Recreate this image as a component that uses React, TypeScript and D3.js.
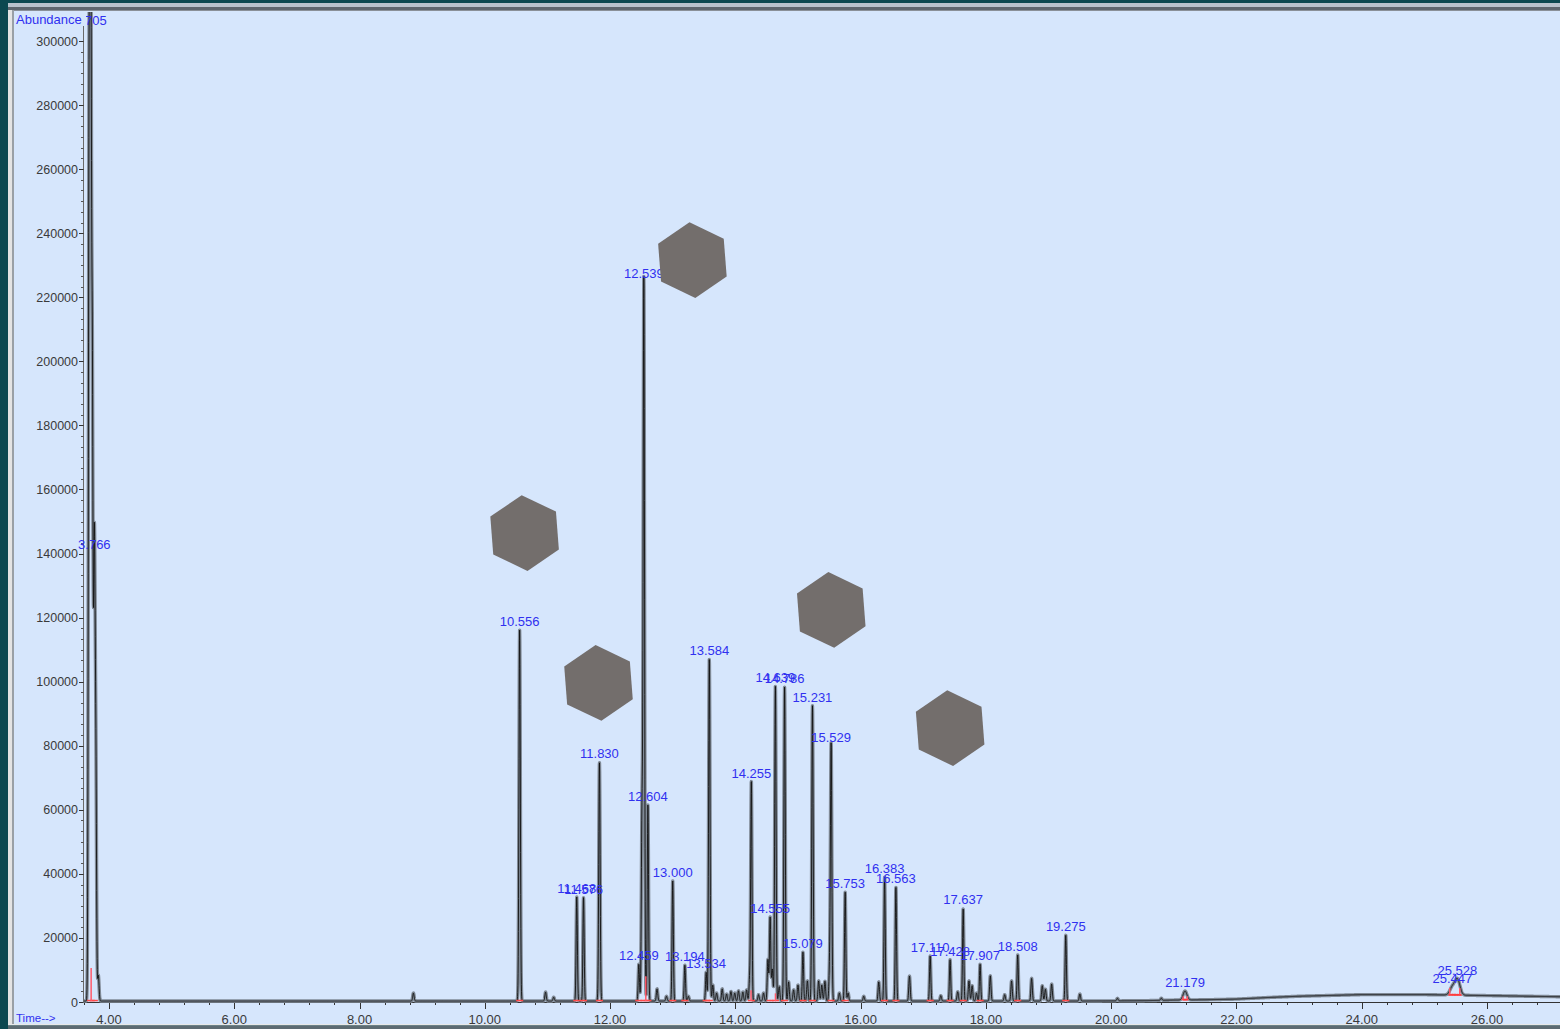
import React from 'react';
import * as d3 from 'd3';

const W = 1560;
const H = 1029;

// Labelled peaks (retention time in min, abundance, peak width sigma in min)
const peakTimes = [3.705, 3.766, 10.556, 11.468, 11.576, 11.83, 12.459, 12.539, 12.604, 13.0, 13.194, 13.534, 13.584, 14.255, 14.555, 14.639, 14.786, 15.079, 15.231, 15.529, 15.753, 16.383, 16.563, 17.11, 17.428, 17.637, 17.907, 18.508, 19.275, 21.179, 25.447, 25.528];
const peakHeights = [360000, 140000, 115800, 32500, 32300, 74600, 11500, 224500, 61300, 37600, 11200, 9000, 106800, 68300, 26200, 98400, 98000, 15300, 92200, 79700, 34000, 38700, 35500, 14100, 12900, 28900, 11550, 14400, 20600, 2800, 2400, 4900];
const peakWidths = [0.014, 0.012, 0.011, 0.01, 0.01, 0.011, 0.01, 0.011, 0.01, 0.01, 0.01, 0.01, 0.011, 0.01, 0.01, 0.011, 0.011, 0.01, 0.011, 0.011, 0.01, 0.01, 0.01, 0.01, 0.01, 0.01, 0.01, 0.01, 0.01, 0.03, 0.04, 0.04];

// Unlabelled small peaks and shoulders
const minorTimes = [3.68, 3.735, 3.79, 3.83, 8.86, 10.97, 11.1, 12.51, 12.75, 12.9, 13.25, 13.64, 13.7, 13.79, 13.86, 13.93, 13.99, 14.05, 14.12, 14.18, 14.23, 14.37, 14.45, 14.52, 14.59, 14.7, 14.85, 14.93, 15.0, 15.15, 15.33, 15.38, 15.43, 15.505, 15.66, 15.8, 16.05, 16.29, 16.78, 17.28, 17.55, 17.73, 17.78, 17.85, 18.07, 18.3, 18.41, 18.73, 18.9, 18.95, 19.05, 19.5, 20.1, 20.8];
const minorHeights = [213000, 166000, 69000, 8000, 2500, 2800, 1200, 58000, 3800, 1500, 1500, 5000, 2500, 3800, 2200, 3000, 2500, 3200, 2800, 3500, 7500, 2000, 2500, 13000, 10000, 4500, 6000, 3500, 5000, 6300, 6300, 5000, 6200, 10000, 2500, 2500, 1500, 6000, 7800, 1700, 2900, 6300, 4800, 2500, 7900, 2000, 6300, 7100, 4800, 3700, 5300, 2200, 800, 700];

// Baseline level read along the run
const baseTimes = [3.6, 19.5, 20.5, 21.0, 21.5, 22.0, 22.5, 23.0, 24.0, 25.0, 26.0, 27.3];
const baseLevels = [300, 300, 400, 600, 700, 900, 1400, 1800, 2300, 2300, 2000, 1600];

// Integration drop lines (time, top abundance)
const dropTimes = [3.715, 12.57, 14.25, 14.64, 21.15, 21.215, 25.405, 25.565];
const dropTops = [10600, 8000, 3700, 2700, 1800, 1800, 4400, 4400];

// Overlay hexagons (centre in time / abundance)
const hexTimes = [10.635, 11.815, 13.314, 15.531, 17.429];
const hexLevels = [146400, 99600, 231600, 122400, 85500];

const yTicks = d3.range(0, 300001, 20000);
const xTicks = d3.range(4, 27, 2);

export default function App() {
  const x = d3.scaleLinear().domain([4, 26]).range([109, 1487]);
  const y = d3.scaleLinear().domain([0, 300000]).range([1002, 41]);
  const base = d3.scaleLinear().domain(baseTimes).range(baseLevels).clamp(true);

  const allT = [...peakTimes, ...minorTimes];
  const allH = [...peakHeights, ...minorHeights];
  const allW = [...peakWidths, ...minorTimes.map(() => 0.011)];

  const t0 = x.invert(84);
  const t1 = x.invert(1562);
  const step = 0.0025;
  const samples: [number, number][] = [];
  const n = Math.ceil((t1 - t0) / step);
  for (let i = 0; i <= n; i++) {
    const t = t0 + i * step;
    let v = base(t);
    for (let k = 0; k < allT.length; k++) {
      const d = (t - allT[k]) / allW[k];
      if (d > -7 && d < 7) v += allH[k] * Math.exp(-0.5 * d * d);
    }
    samples.push([t, v]);
  }
  const line = d3.line<[number, number]>().x((d) => x(d[0])).y((d) => y(d[1]));
  const tracePath = line(samples) || '';

  const hexR = 38;
  const rot = (-4.4 * Math.PI) / 180;
  const hexPts = (cx: number, cy: number) =>
    d3.range(6).map((i) => {
      const a = -Math.PI / 2 + rot + (i * Math.PI) / 3;
      return `${cx + hexR * Math.cos(a)},${cy + hexR * Math.sin(a)}`;
    }).join(' ');

  const yMinor = d3.range(0, 300001 + 1, 20000 / 6);
  const xMinor = d3.range(3.6, 27.3, 0.4);

  const blue = '#3030f0';
  const fontAxis = '"Liberation Sans", Arial, sans-serif';

  return (
    <svg width={W} height={H} style={{ position: 'absolute', left: 0, top: 0, display: 'block' }}>
      <defs>
        <clipPath id="plotclip">
          <rect x={84} y={12} width={W - 84} height={1004 - 12} />
        </clipPath>
      </defs>
      {/* window frame */}
      <rect x={0} y={0} width={W} height={H} fill="#0c4850" />
      <rect x={8} y={3} width={W} height={1022} fill="#b8c2cc" />
      <rect x={8} y={7} width={W} height={3} fill="#5e666e" />
      <rect x={8} y={10} width={5} height={1015} fill="#e4e4e4" />
      <rect x={12} y={10} width={2} height={1015} fill="#9aa0a6" />
      <rect x={14} y={11} width={W} height={1013} fill="#d6e6fc" />
      <rect x={14} y={10} width={W} height={1} fill="#8a9098" />

      {/* y axis */}
      <line x1={83.5} x2={83.5} y1={12} y2={1002} stroke="#6a6a6a" strokeWidth={1} />
      {yMinor.map((v, i) => (
        <line key={'ym' + i} x1={81} x2={83.5} y1={Math.round(y(v)) + 0.5} y2={Math.round(y(v)) + 0.5} stroke="#555" strokeWidth={1} />
      ))}
      {yTicks.map((v) => (
        <g key={'yt' + v}>
          <line x1={79} x2={83.5} y1={Math.round(y(v)) + 0.5} y2={Math.round(y(v)) + 0.5} stroke="#333" strokeWidth={1} />
          <text x={78} y={y(v) + 4.5} textAnchor="end" fontSize={12.5} fontFamily={fontAxis} fill="#3a3a3a">
            {v}
          </text>
        </g>
      ))}

      {/* x axis */}
      <line x1={84} x2={W} y1={1002.5} y2={1002.5} stroke="#333" strokeWidth={1} />
      {xMinor.map((v, i) => (
        <line key={'xm' + i} x1={Math.round(x(v)) + 0.5} x2={Math.round(x(v)) + 0.5} y1={1002} y2={1005} stroke="#333" strokeWidth={1} />
      ))}
      {xTicks.map((v) => (
        <g key={'xt' + v}>
          <line x1={Math.round(x(v)) + 0.5} x2={Math.round(x(v)) + 0.5} y1={1002} y2={1009} stroke="#333" strokeWidth={1} />
          <text x={x(v)} y={1023.5} textAnchor="middle" fontSize={13} fontFamily={fontAxis} fill="#3a3a3a">
            {v.toFixed(2)}
          </text>
        </g>
      ))}

      {/* trace */}
      <g clipPath="url(#plotclip)">
        <path d={tracePath} fill="none" stroke="#808a96" strokeWidth={3.4} strokeLinejoin="round" />
        <path d={tracePath} fill="none" stroke="#111" strokeWidth={0.9} strokeLinejoin="round" />
        {/* integration markers */}
        {peakTimes.map((t, i) => (
          <g key={'im' + i}>
            <line x1={x(t - 0.025) - 2} x2={x(t - 0.025) + 2} y1={y(base(t)) - 0.5} y2={y(base(t)) - 0.5} stroke="#ff4a4a" strokeWidth={1.5} />
            <line x1={x(t + 0.025) - 2} x2={x(t + 0.025) + 2} y1={y(base(t)) - 0.5} y2={y(base(t)) - 0.5} stroke="#ff4a4a" strokeWidth={1.5} />
          </g>
        ))}
        {dropTimes.map((t, i) => (
          <line key={'dr' + i} x1={x(t)} x2={x(t)} y1={y(base(t))} y2={y(dropTops[i])} stroke="#ff5a6a" strokeWidth={1.5} />
        ))}
        <line x1={x(25.38)} x2={x(25.6)} y1={y(base(25.5))} y2={y(base(25.5))} stroke="#ff3030" strokeWidth={1.2} />
        <line x1={x(21.14)} x2={x(21.225)} y1={y(base(21.18))} y2={y(base(21.18))} stroke="#ff3030" strokeWidth={1.2} />
      </g>

      {/* peak labels */}
      {peakTimes.map((t, i) => (
        <text
          key={'pl' + i}
          x={x(t)}
          y={Math.max(y(peakHeights[i] + base(t)) - 4, 25)}
          textAnchor="middle"
          fontSize={13}
          fontFamily={fontAxis}
          fill={blue}
        >
          {t.toFixed(3)}
        </text>
      ))}

      {/* Abundance title */}
      <rect x={14} y={12} width={72} height={14} fill="#d6e6fc" />
      <text x={16} y={24} fontSize={13} fontFamily={fontAxis} fill={blue}>
        Abundance
      </text>
      <text x={16} y={1022} fontSize={11.5} fontFamily={fontAxis} fill={blue}>
        {'Time-->'}
      </text>

      {/* hexagon overlays */}
      {hexTimes.map((t, i) => (
        <polygon key={'hx' + i} points={hexPts(x(t), y(hexLevels[i]))} fill="#736e6c" />
      ))}

      {/* bottom window edge */}
      <rect x={8} y={1024} width={W} height={1.5} fill="#e8e8e8" />
      <rect x={8} y={1025.5} width={W} height={4} fill="#5d6b72" />
    </svg>
  );
}
